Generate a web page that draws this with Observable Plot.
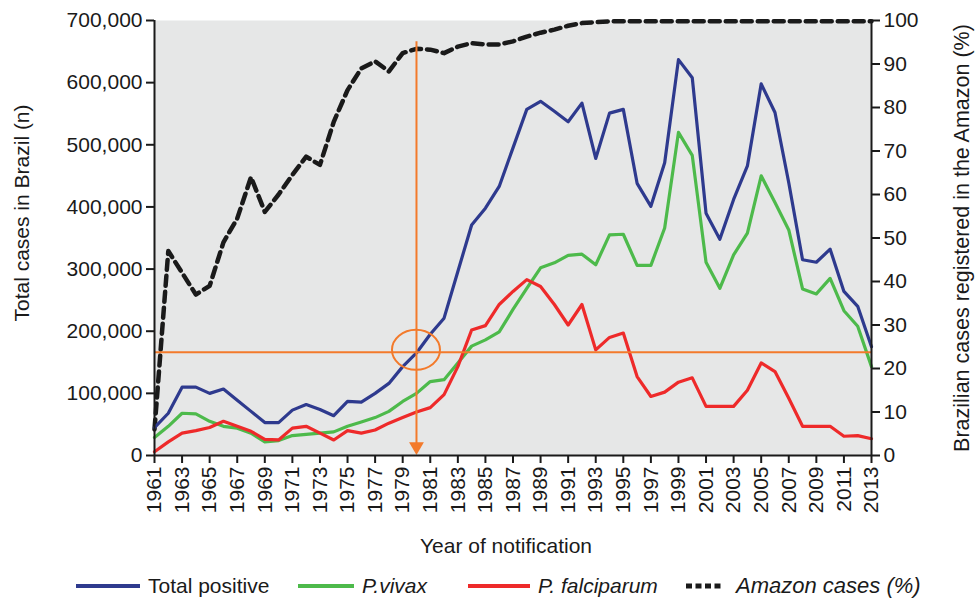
<!DOCTYPE html>
<html>
<head>
<meta charset="utf-8">
<script src="https://cdn.jsdelivr.net/npm/d3@7"></script>
<script src="https://cdn.jsdelivr.net/npm/@observablehq/plot@0.6"></script>
<style>
  html, body { margin: 0; padding: 0; background: #fff; }
  body { font-family: "Liberation Sans", Arial, sans-serif; color: #1a1a1a; }
  #legend { position: relative; width: 975px; height: 33px; font-size: 21px; }
  #legend .it { position: absolute; top: 4px; height: 33px; display: flex; align-items: center; white-space: nowrap; }
  #legend svg { display: block; }
  #legend .lab { margin-left: 8px; }
  #legend i { font-style: italic; }
</style>
</head>
<body>
<div id="chart"></div>
<div id="legend"></div>
<script>
// ---------- data ----------
const years = [1961,1962,1963,1964,1965,1966,1967,1968,1969,1970,
  1971,1972,1973,1974,1975,1976,1977,1978,1979,1980,
  1981,1982,1983,1984,1985,1986,1987,1988,1989,1990,
  1991,1992,1993,1994,1995,1996,1997,1998,1999,2000,
  2001,2002,2003,2004,2005,2006,2007,2008,2009,2010,
  2011,2012,2013];

const totalPositive = [45000,68000,110000,110000,100000,107000,89000,71000,53000,53000,
  73000,82000,74000,64000,87000,86000,100000,116000,143000,165000,
  195000,221000,296000,371000,398000,433000,495000,557000,570000,554000,
  537000,567000,478000,551000,557000,438000,401000,471000,637000,608000,
  390000,348000,412000,466000,598000,552000,439000,315000,311000,332000,
  264000,240000,175000];

const pVivax = [29000,47000,68000,67000,55000,47000,44000,36000,22000,24000,
  32000,34000,36000,38000,47000,54000,61000,71000,87000,100000,
  119000,122000,149000,176000,186000,199000,235000,269000,302000,310000,
  322000,324000,307000,355000,356000,306000,306000,366000,520000,483000,
  311000,269000,323000,358000,450000,407000,363000,268000,260000,285000,
  233000,208000,143000];

const pFalciparum = [6000,22000,36000,40000,45000,55000,47000,39000,26000,25000,
  44000,47000,36000,25000,40000,36000,41000,52000,61000,70000,
  77000,98000,143000,202000,209000,243000,264000,283000,272000,243000,
  210000,243000,170000,190000,197000,127000,95000,102000,118000,125000,
  79000,79000,79000,105000,149000,135000,92000,47000,47000,47000,
  31000,32000,27000];

const amazonPct = [6,47,42,37,39,49,54.5,64,56,60,
  64.5,68.7,66.8,76.7,84,89,90.6,88.3,92.5,93.5,
  93.3,92.5,94,94.8,94.5,94.5,95.2,96.3,97.2,97.9,
  98.8,99.4,99.6,99.8,99.8,99.8,99.8,99.8,99.8,99.8,
  99.8,99.8,99.8,99.8,99.8,99.8,99.8,99.8,99.8,99.8,
  99.8,99.8,99.8];

const leftTicks = [0,100000,200000,300000,400000,500000,600000,700000];
const rightTicks = [0,10,20,30,40,50,60,70,80,90,100];
const xTicks = [1961,1963,1965,1967,1969,1971,1973,1975,1977,1979,1981,1983,1985,1987,
  1989,1991,1993,1995,1997,1999,2001,2003,2005,2007,2009,2011,2013];

// annotation (orange cross-hair)
const markerYear = 1980;
const markerCases = 166000;
const markerTop = 666000;

// ---------- styles ----------
const BLUE = "#2e3a8e", GREEN = "#4dba4b", RED = "#ee2a2a", ORANGE = "#f37a2b", INK = "#1a1a1a";
const PCT = 7000; // 100 % on the right axis == 700,000 on the left axis
const FONT = "Liberation Sans, Arial, sans-serif";

const rows = years.map((year, i) => ({
  year, total: totalPositive[i], vivax: pVivax[i], falciparum: pFalciparum[i], amazon: amazonPct[i]
}));

const ellipseMark = (index, scales) => {
  const e = document.createElementNS("http://www.w3.org/2000/svg", "ellipse");
  e.setAttribute("cx", scales.x(markerYear));
  e.setAttribute("cy", scales.y(markerCases) - 2);
  e.setAttribute("rx", 24);
  e.setAttribute("ry", 20);
  e.setAttribute("fill", "none");
  e.setAttribute("stroke", ORANGE);
  e.setAttribute("stroke-width", 2);
  return e;
};

const chart = Plot.plot({
  width: 975,
  height: 565,
  marginLeft: 154,
  marginRight: 104,
  marginTop: 20,
  marginBottom: 110,
  style: { fontFamily: FONT, fontSize: "21px", color: INK, background: "white" },
  x: { domain: [1961, 2013], label: null },
  y: { domain: [0, 700000], label: null },
  marks: [
    Plot.frame({ fill: "#e6e7e7", stroke: "none" }),
    Plot.line(rows, { x: "year", y: d => d.amazon * PCT, stroke: INK, strokeWidth: 4.5, strokeDasharray: "10,6" }),
    Plot.line(rows, { x: "year", y: "vivax", stroke: GREEN, strokeWidth: 3.2 }),
    Plot.line(rows, { x: "year", y: "falciparum", stroke: RED, strokeWidth: 3.2 }),
    Plot.line(rows, { x: "year", y: "total", stroke: BLUE, strokeWidth: 3.2 }),
    Plot.ruleY([markerCases], { stroke: ORANGE, strokeWidth: 2 }),
    Plot.ruleX([markerYear], { y1: 9000, y2: markerTop, stroke: ORANGE, strokeWidth: 2 }),
    Plot.dot([{ year: markerYear, v: 0 }], { x: "year", y: "v", symbol: "triangle", rotate: 180, r: 5.5, fill: ORANGE, stroke: "none", dy: -9 }),
    ellipseMark,
    Plot.ruleX([1961, 2013], { stroke: INK, strokeWidth: 2 }),
    Plot.ruleY([0], { stroke: INK, strokeWidth: 2 }),
    Plot.axisY(leftTicks, { anchor: "left", tickFormat: d3.format(","), tickSize: 8, tickPadding: 4, strokeWidth: 2, stroke: INK, fill: INK, fontSize: 21, label: null }),
    Plot.axisY(rightTicks.map(d => d * PCT), { anchor: "right", tickFormat: d => String(Math.round(d / PCT)), tickSize: 8, tickPadding: 4, strokeWidth: 2, stroke: INK, fill: INK, fontSize: 21, label: null }),
    Plot.axisX(xTicks, { anchor: "bottom", tickRotate: -90, tickFormat: d => String(d), tickSize: 8, tickPadding: 3, strokeWidth: 2, stroke: INK, fill: INK, fontSize: 21, label: null }),
    Plot.text(["Total cases in Brazil (n)"], { frameAnchor: "left", rotate: -90, dx: -132, dy: -25, fontSize: 21, fill: INK, textAnchor: "middle", lineAnchor: "middle" }),
    Plot.text(["Brazilian cases registered in the Amazon (%)"], { frameAnchor: "right", rotate: -90, dx: 91, dy: 0, fontSize: 21.5, fill: INK, textAnchor: "middle", lineAnchor: "middle" }),
    Plot.text(["Year of notification"], { frameAnchor: "bottom", dy: 91, dx: -7, fontSize: 21, fill: INK, textAnchor: "middle", lineAnchor: "middle" })
  ]
});
document.getElementById("chart").appendChild(chart);

// ---------- legend (below the chart) ----------
const legendItems = [
  { left: 76, w: 64, color: BLUE, dash: null, label: "Total positive", italic: false, size: 21 },
  { left: 298, w: 56, color: GREEN, dash: null, label: "P.vivax", italic: true, size: 21 },
  { left: 468, w: 62, color: RED, dash: null, label: "P. falciparum", italic: true, size: 21 },
  { left: 686, w: 38, color: INK, dash: "6,3.5", label: "Amazon cases (%)", italic: true, size: 22 }
];
const legend = document.getElementById("legend");
for (const it of legendItems) {
  const div = document.createElement("div");
  div.className = "it";
  div.style.left = it.left + "px";
  div.innerHTML = `<svg width="${it.w}" height="10"><line x1="0" x2="${it.w}" y1="5" y2="5" stroke="${it.color}" stroke-width="${it.dash ? 5 : 4}" ${it.dash ? `stroke-dasharray="${it.dash}"` : ""}/></svg>` +
    `<span class="lab" style="font-size:${it.size}px;margin-left:${it.dash ? 12 : 8}px">${it.italic ? `<i>${it.label}</i>` : it.label}</span>`;
  legend.appendChild(div);
}
</script>
</body>
</html>
